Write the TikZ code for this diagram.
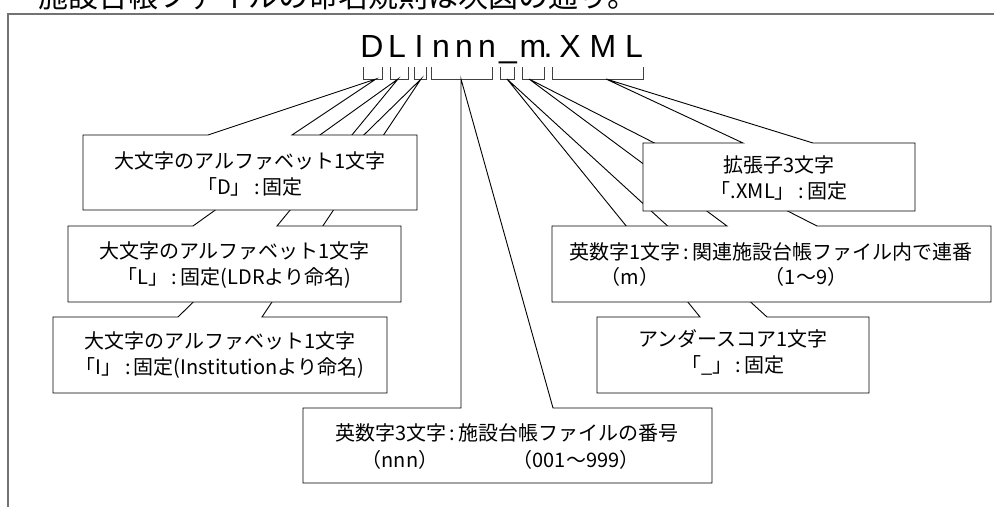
\documentclass[tikz,border=0pt]{standalone}
\usepackage{fontspec}
\setmainfont{Noto Sans CJK JP}
\newfontfamily\namefont{Liberation Sans}
\usetikzlibrary{positioning}

\begin{document}
\begin{tikzpicture}[x=1pt,y=-1pt,
  wedgebox/.style={draw=black,fill=white,line width=0.9pt,line join=miter},
  boxtext/.style={font=\fontsize{20}{26}\selectfont,align=center,inner sep=0pt},
  fname/.style={font=\namefont\fontsize{32}{32}\selectfont,anchor=base,inner sep=0pt},
  charbracket/.style={draw=black!75,line width=1pt},
  outerframe/.style={draw=black!55,line width=1.5pt}]
\useasboundingbox (0,0) rectangle (994,507);
\clip (0,0) rectangle (994,507);
\fill[white] (0,0) rectangle (994,507);
\node[font=\fontsize{30}{30}\selectfont,anchor=base west,inner sep=0pt] (heading) at (38,7) {施設台帳ファイルの命名規則は次図の通り。};
\draw[outerframe] (994,14) -- (8,14) -- (8,507);
\foreach \c/\x in {D/372,L/397,I/419,n/441,n/464,n/487,\_/508,m/533,./548,X/570,M/603,L/634}
  \node[fname] (ch\x) at (\x,57) {\c};
\foreach \a/\b/\t/\p in {363/382/376/d,390/408/398/l,414/426/421/i,431/492/461/n,500/514/507/u,522/544/529/m,552/643/606/x}
  { \draw[charbracket] (\a,67) |- (\b,79) -- (\b,67); \coordinate (\p tip) at (\t,79); }
\draw[wedgebox] (303,408) -- (461,408) -- (ntip) -- (553,408) -- (712,408) -- (712,483) -- (303,483) -- cycle;
\node[boxtext] (nbox) at (507,433) {英数字3文字\,:\,施設台帳ファイルの番号};
\node[boxtext] (nchar) at (400,460) {（nnn）};
\node[boxtext] (nrange) at (576,460) {（001～999）};
\draw[wedgebox] (53,317) -- (178,317) -- (itip) -- (262,317) -- (387,317) -- (387,393) -- (53,393) -- cycle;
\node[boxtext] (ibox) at (220,355.5) {大文字のアルファベット1文字\\「I」\,:\,固定(Institutionより命名)};
\draw[wedgebox] (68,226) -- (193,226) -- (ltip) -- (277,226) -- (401,226) -- (401,302) -- (68,302) -- cycle;
\node[boxtext] (lbox) at (234.5,265.5) {大文字のアルファベット1文字\\「L」\,:\,固定(LDRより命名)};
\draw[wedgebox] (83,135) -- (208,135) -- (dtip) -- (292,135) -- (417,135) -- (417,210) -- (83,210) -- cycle;
\node[boxtext] (dbox) at (250,173.5) {大文字のアルファベット1文字\\「D」\,:\,固定};
\draw[wedgebox] (597,317) -- (700,317) -- (utip) -- (767,317) -- (869,317) -- (869,393) -- (597,393) -- cycle;
\node[boxtext] (ubox) at (733,352.5) {アンダースコア1文字\\「\_」\,:\,固定};
\draw[wedgebox] (552,226) -- (727,226) -- (mtip) -- (817,226) -- (991,226) -- (991,302) -- (552,302) -- cycle;
\node[boxtext] (mbox) at (771,252) {英数字1文字\,:\,関連施設台帳ファイル内で連番};
\node[boxtext] (mchar) at (630,277) {（m）};
\node[boxtext] (mrange) at (806,277) {（1～9）};
\draw[wedgebox] (643,143) -- (743,143) -- (xtip) -- (813,143) -- (915,143) -- (915,211) -- (643,211) -- cycle;
\node[boxtext] (xbox) at (779,177.5) {拡張子3文字\\「.XML」\,:\,固定};
\end{tikzpicture}
\end{document}
